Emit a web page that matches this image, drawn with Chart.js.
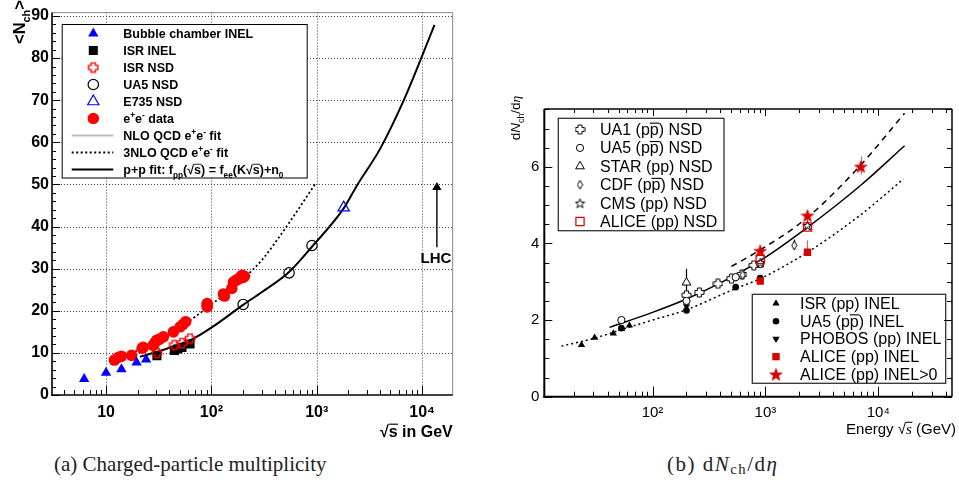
<!DOCTYPE html>
<html><head><meta charset="utf-8">
<script src="https://cdn.jsdelivr.net/npm/chart.js@4/dist/chart.umd.min.js"></script>
<style>
html,body{margin:0;padding:0;background:#fff;}
#wrap{position:relative;width:959px;height:485px;overflow:hidden;background:#fff;}
canvas{position:absolute;top:0;}
.lft{left:0;}
.rgt{left:480px;}
.under{z-index:1;}
.main{z-index:2;}
.over{z-index:3;pointer-events:none;}
.cap{position:absolute;font-family:"Liberation Serif","DejaVu Serif",serif;font-size:21px;color:#222;white-space:nowrap;line-height:24px;}
.cap sub{font-size:70%;vertical-align:-3px;line-height:0;}
</style></head><body>
<div id="wrap">
<canvas id="gL" class="lft under" width="480" height="445"></canvas>
<canvas id="cL" class="lft main" width="480" height="445"></canvas>
<canvas id="tL" class="lft over" width="480" height="445"></canvas>
<canvas id="gR" class="rgt under" width="479" height="445"></canvas>
<canvas id="cR" class="rgt main" width="479" height="445"></canvas>
<canvas id="tR" class="rgt over" width="479" height="445"></canvas>
<div class="cap" id="capA" style="left:54px;top:452px;">(a) Charged-particle multiplicity</div>
<div class="cap" id="capB" style="left:667px;top:452px;letter-spacing:1.5px;">(b) d<i>N</i><sub>ch</sub>/d<i>η</i></div>
</div>
<script>
// ===================== DATA: panel (a) =====================
const bubbleX = [6.2, 10, 14, 19.5, 24];
const bubbleY = [3.8, 5.3, 6.1, 7.7, 8.4];
const isrInelX = [30.4, 44.5, 48, 52.6, 62.7];
const isrInelY = [9.3, 10.6, 10.9, 11.3, 12.1];
const isrNsdX = [30.4, 44.5, 52.6, 62.7];
const isrNsdY = [10.0, 11.8, 12.3, 13.4];
const ua5NsdX = [200, 546, 900];
const ua5NsdY = [21.5, 29.0, 35.5];
const e735X = [1800];
const e735Y = [44.5];
const eeX = [12, 13, 14, 17.5, 22, 22.5, 28, 29, 30.2, 32, 35, 43.6, 50.5, 54, 57, 91.2, 91.2, 91.2, 130, 133, 156, 162, 172, 183, 189, 196, 200, 206];
const eeY = [8.3, 8.9, 9.2, 9.4, 11.1, 11.3, 11.8, 12.4, 13.0, 13.2, 13.8, 15.0, 16.2, 16.8, 17.4, 20.9, 21.3, 21.7, 24.0, 23.5, 25.3, 26.8, 27.3, 27.6, 28.0, 28.4, 27.9, 28.2];
const nlo3X = [10.9, 15, 20, 30, 50, 100, 200, 300, 500, 966];
const nlo3Y = [8.0, 9.3, 10.6, 12.7, 16.0, 21.5, 27.6, 32.0, 39.5, 50.1];
const ppFitX = [21, 30, 45, 65, 100, 200, 300, 546, 900, 1800, 2400, 4000, 6670, 10000, 13100];
const ppFitY = [9.1, 10.2, 11.7, 13.2, 16.0, 21.4, 24.4, 29.2, 35.2, 44.3, 49.7, 58.5, 69.9, 80.5, 87.9];
const lhcX = [13800, 13800];
const lhcY = [35.1, 49.3];
const leftXTickLabels = {1: '10', 2: '10²', 3: '10³', 4: '10⁴'};

// ===================== DATA: panel (b) =====================
const rIsrInelX = [23.5, 30.7, 45, 53.2, 62.4];
const rIsrInelY = [1.35, 1.54, 1.65, 1.77, 1.86];
const rUa5InelX = [53, 200, 546, 900];
const rUa5InelY = [1.79, 2.25, 2.86, 3.10];
const rPhobosX = [200];
const rPhobosY = [2.36];
const rAliceInelX = [900, 2360];
const rAliceInelY = [3.02, 3.77];
const rAliceInel0X = [900, 2360, 7000];
const rAliceInel0Y = [3.81, 4.73, 6.01];
const rUa1NsdX = [200, 260, 380, 500, 620, 790];
const rUa1NsdY = [2.65, 2.72, 2.95, 3.08, 3.19, 3.43];
const rUa5NsdX = [53, 200, 546, 900];
const rUa5NsdY = [2.00, 2.50, 3.12, 3.46];
const rStarNsdX = [200];
const rStarNsdY = [2.98];
const rCdfNsdX = [630, 1800];
const rCdfNsdY = [3.18, 3.95];
const rCmsNsdX = [900, 2360];
const rCmsNsdY = [3.50, 4.47];
const rAliceNsdX = [900, 2360];
const rAliceNsdY = [3.58, 4.43];
const rFitSolidX = [41.6, 100, 200, 400, 900, 2360, 7000, 17100];
const rFitSolidY = [1.81, 2.20, 2.55, 2.97, 3.55, 4.42, 5.52, 6.55];
const rFitDashX = [500, 900, 2360, 7000, 17100];
const rFitDashY = [3.40, 3.83, 4.68, 6.05, 7.40];
const rFitDotX = [15.6, 30, 53, 100, 200, 540, 900, 2360, 7000, 16700];
const rFitDotY = [1.32, 1.52, 1.75, 2.00, 2.27, 2.82, 3.08, 3.77, 4.75, 5.68];
const rErrX  = [200, 1800, 2360, 2360, 7000, 900];
const rErrLo = [2.72, 3.84, 3.70, 4.58, 5.80, 3.74];
const rErrHi = [3.34, 4.10, 4.08, 4.86, 6.27, 3.90];
const rightXTickLabels = {2: '10²', 3: '10³', 4: '10⁴'};

// ===================== helpers =====================
const SANS = '"Liberation Sans", Arial, Helvetica, sans-serif';
const SERIF = '"Liberation Serif", "DejaVu Serif", serif';
const pts = (xs, ys) => xs.map((x, i) => ({x: x, y: ys[i]}));

function markerCanvas(kind, w, h, fill, stroke, lw) {
  const c = document.createElement('canvas');
  c.width = w; c.height = h;
  const g = c.getContext('2d');
  g.lineWidth = lw; g.strokeStyle = stroke; g.fillStyle = fill;
  g.beginPath();
  const cx = w / 2, cy = h / 2;
  if (kind === 'cross') {
    const r = w / 2 - lw, a = w * 0.18;
    const p = [[-a,-r],[a,-r],[a,-a],[r,-a],[r,a],[a,a],[a,r],[-a,r],[-a,a],[-r,a],[-r,-a],[-a,-a]];
    p.forEach((q, i) => i ? g.lineTo(cx + q[0], cy + q[1]) : g.moveTo(cx + q[0], cy + q[1]));
    g.closePath();
  } else if (kind === 'star') {
    const R = w / 2 - lw * 0.6, r = R * 0.42, oy = cy + h * 0.05;
    for (let i = 0; i < 10; i++) {
      const ang = -Math.PI / 2 + i * Math.PI / 5, rr = i % 2 ? r : R;
      const px = cx + rr * Math.cos(ang), py = oy + rr * Math.sin(ang);
      i ? g.lineTo(px, py) : g.moveTo(px, py);
    }
    g.closePath();
  } else if (kind === 'diamond') {
    g.moveTo(cx, lw); g.lineTo(w - lw, cy); g.lineTo(cx, h - lw); g.lineTo(lw, cy); g.closePath();
  }
  if (fill !== 'none') g.fill();
  if (lw > 0) g.stroke();
  return c;
}

const RED = '#ff0000', BLUE = '#0000ff', RRED = '#d40000';
const MK = {
  bubble: {shape: 'triangle', r: 6, fill: BLUE, stroke: BLUE, lw: 0},
  isrInel: {shape: 'rect', r: 6.4, fill: '#000', stroke: '#000', lw: 0},
  isrNsd: {shape: 'image', r: 5, img: markerCanvas('cross', 12, 12, 'none', RED, 1.4), fill: 'rgba(0,0,0,0)', stroke: RED, lw: 0},
  ua5: {shape: 'circle', r: 5.2, fill: 'rgba(0,0,0,0)', stroke: '#000', lw: 1.2},
  e735: {shape: 'triangle', r: 6.5, fill: 'rgba(0,0,0,0)', stroke: BLUE, lw: 1.2},
  ee: {shape: 'circle', r: 5.8, fill: RED, stroke: RED, lw: 0},
  rIsr: {shape: 'triangle', r: 4.2, fill: '#000', stroke: '#000', lw: 0},
  rUa5Inel: {shape: 'circle', r: 3.3, fill: '#000', stroke: '#000', lw: 0},
  rPhobos: {shape: 'triangleDown', r: 4.2, fill: '#000', stroke: '#000', lw: 0},
  rAliceInel: {shape: 'rect', r: 5.2, fill: RRED, stroke: RRED, lw: 0},
  rAliceInel0: {shape: 'image', r: 5, img: markerCanvas('star', 14, 14, RRED, RRED, 0.6), fill: RRED, stroke: RRED, lw: 0},
  rUa1: {shape: 'image', r: 4, img: markerCanvas('cross', 11, 11, '#fff', '#000', 1), fill: '#fff', stroke: '#000', lw: 0},
  rUa5Nsd: {shape: 'circle', r: 3.6, fill: '#fff', stroke: '#000', lw: 1},
  rStar: {shape: 'triangle', r: 5, fill: '#fff', stroke: '#000', lw: 1},
  rCdf: {shape: 'image', r: 4, img: markerCanvas('diamond', 7, 11, '#fff', '#000', 1), fill: '#fff', stroke: '#000', lw: 0},
  rCms: {shape: 'image', r: 4, img: markerCanvas('star', 11, 11, 'rgba(255,255,255,0.6)', '#000', 1), fill: '#fff', stroke: '#000', lw: 0},
  rAliceNsd: {shape: 'rect', r: 5.8, fill: 'rgba(0,0,0,0)', stroke: RRED, lw: 1.2}
};

function scatterDs(label, xs, ys, m) {
  return {
    label: label, data: pts(xs, ys), showLine: false,
    pointStyle: m.shape === 'image' ? m.img : (m.shape === 'triangleDown' ? 'triangle' : m.shape),
    rotation: m.shape === 'triangleDown' ? 180 : 0,
    pointRadius: m.r, pointHoverRadius: m.r,
    backgroundColor: m.fill, borderColor: m.stroke, borderWidth: m.lw
  };
}
function lineDs(label, xs, ys, color, width, dash) {
  return {
    label: label, data: pts(xs, ys), showLine: true, pointRadius: 0, pointHoverRadius: 0,
    borderColor: color, borderWidth: width, borderDash: dash || [], backgroundColor: color,
    cubicInterpolationMode: 'monotone', fill: false
  };
}

function drawMarker(ctx, m, x, y) {
  ctx.save();
  if (m.shape === 'image') { ctx.drawImage(m.img, x - m.img.width / 2, y - m.img.height / 2); ctx.restore(); return; }
  ctx.fillStyle = m.fill; ctx.strokeStyle = m.stroke; ctx.lineWidth = m.lw;
  ctx.beginPath();
  const r = m.r;
  if (m.shape === 'circle') ctx.arc(x, y, r, 0, Math.PI * 2);
  else if (m.shape === 'rect') { const s = r * Math.SQRT1_2; ctx.rect(x - s, y - s, 2 * s, 2 * s); }
  else if (m.shape === 'triangle' || m.shape === 'triangleDown') {
    let rad = m.shape === 'triangleDown' ? Math.PI : 0;
    for (let i = 0; i < 3; i++) {
      const px = x + Math.sin(rad) * r, py = y - Math.cos(rad) * r;
      i ? ctx.lineTo(px, py) : ctx.moveTo(px, py);
      rad += 2 * Math.PI / 3;
    }
    ctx.closePath();
  }
  ctx.fill();
  if (m.lw > 0) ctx.stroke();
  ctx.restore();
}

function richWidth(ctx, segs, size, weight, family) {
  let w = 0;
  for (const s of segs) {
    const sz = (s.sub || s.sup) ? size * 0.66 : size;
    ctx.font = (s.italic ? 'italic ' : '') + weight + ' ' + sz + 'px ' + (s.fam || family);
    w += ctx.measureText(s.t).width;
  }
  return w;
}
function drawRich(ctx, x, y, segs, size, weight, family) {
  let cx = x;
  for (const s of segs) {
    const sz = (s.sub || s.sup) ? size * 0.66 : size;
    ctx.font = (s.italic ? 'italic ' : '') + weight + ' ' + sz + 'px ' + (s.fam || family);
    const dy = s.sup ? -size * 0.38 : (s.sub ? size * 0.3 : 0);
    const w = ctx.measureText(s.t).width;
    ctx.fillText(s.t, cx, y + dy);
    if (s.over) {
      ctx.save(); ctx.lineWidth = size * 0.07; ctx.strokeStyle = ctx.fillStyle;
      ctx.beginPath(); ctx.moveTo(cx, y - size * s.over); ctx.lineTo(cx + w + 0.5, y - size * s.over); ctx.stroke(); ctx.restore();
    }
    cx += w;
  }
  return cx - x;
}

function decadeLabel(v, map) {
  const l = Math.log10(v), r = Math.round(l);
  if (Math.abs(l - r) > 1e-6) return '';
  return map[r] !== undefined ? map[r] : '';
}

function seg(ctx, x1, y1, x2, y2) { ctx.beginPath(); ctx.moveTo(x1, y1); ctx.lineTo(x2, y2); ctx.stroke(); }

function logTickValues(min, max) {
  const out = [];
  const d0 = Math.floor(Math.log10(min)), d1 = Math.ceil(Math.log10(max));
  for (let d = d0; d <= d1; d++) {
    for (let k = 1; k <= 9; k++) {
      const v = k * Math.pow(10, d);
      if (v >= min * 0.9999 && v <= max * 1.0001) out.push({v: v, major: k === 1});
    }
  }
  return out;
}

// grid goes on a canvas beneath the chart, ticks and frame on a canvas above it
function axesPlugin(cfg) {
  return {
    id: 'axes' + cfg.name,
    afterDraw(chart) {
      const a = chart.chartArea, sx = chart.scales.x, sy = chart.scales.y;
      const L = a.left, R = a.right, T = a.top, B = a.bottom;
      const xt = logTickValues(sx.min, sx.max).map(t => ({p: Math.round(sx.getPixelForValue(t.v)) + 0.5, major: t.major}));
      const yt = [];
      for (let k = 0; k * cfg.yMinor <= sy.max + 1e-9; k++) {
        const v = k * cfg.yMinor, ratio = v / cfg.yMajor;
        yt.push({p: Math.round(sy.getPixelForValue(v)) + 0.5, major: Math.abs(ratio - Math.round(ratio)) < 1e-6, v: v});
      }
      const g = document.getElementById(cfg.under).getContext('2d');
      g.clearRect(0, 0, g.canvas.width, g.canvas.height);
      if (cfg.grid) {
        g.save();
        g.strokeStyle = '#444'; g.lineWidth = 1; g.setLineDash([1, 2]);
        yt.filter(t => t.major && t.v > 0).forEach(t => seg(g, L, t.p, R, t.p));
        xt.filter(t => t.major).forEach(t => seg(g, t.p, T, t.p, B));
        g.restore();
      }
      const o = document.getElementById(cfg.over).getContext('2d');
      o.clearRect(0, 0, o.canvas.width, o.canvas.height);
      o.save();
      o.strokeStyle = '#000'; o.lineWidth = 1;
      xt.forEach(t => {
        seg(o, t.p, B, t.p, B - (t.major ? cfg.xBotMaj : cfg.xBotMin));
        if (cfg.mirror) seg(o, t.p, T, t.p, T + (t.major ? cfg.xTopMaj : cfg.xTopMin));
      });
      yt.forEach(t => {
        seg(o, L, t.p, L + (t.major ? cfg.yMaj : cfg.yMin), t.p);
        if (cfg.mirror) seg(o, R, t.p, R - (t.major ? cfg.yMaj : cfg.yMin), t.p);
      });
      o.strokeStyle = cfg.sideColor; o.lineWidth = cfg.sideWidth;
      seg(o, L, T, R, T); seg(o, R, T, R, B);
      o.strokeStyle = '#000'; o.lineWidth = cfg.axisWidth;
      seg(o, L - cfg.axisWidth / 2, B, R, B); seg(o, L, T, L, B + cfg.axisWidth / 2);
      o.restore();
    }
  };
}

// ===================== panel (a) =====================
const L_XMIN = 3.07, L_XMAX = 19500, L_YMAX = 90.8;
const leftDatasets = [
  scatterDs('E735 NSD', e735X, e735Y, MK.e735),
  scatterDs('UA5 NSD', ua5NsdX, ua5NsdY, MK.ua5),
  scatterDs('ISR NSD', isrNsdX, isrNsdY, MK.isrNsd),
  scatterDs('ISR INEL', isrInelX, isrInelY, MK.isrInel),
  scatterDs('Bubble chamber INEL', bubbleX, bubbleY, MK.bubble),
  scatterDs('e+e- data', eeX, eeY, MK.ee),
  Object.assign(lineDs('LHC', lhcX, lhcY, '#000', 1.4), {pointRadius: [0, 4], pointStyle: 'triangle', backgroundColor: '#000', cubicInterpolationMode: 'default', tension: 0}),
  lineDs('p+p fit', ppFitX, ppFitY, '#000', 2),
  lineDs('3NLO QCD e+e- fit', nlo3X, nlo3Y, '#000', 1.8, [2, 2.5])
];

const leftText = {
  id: 'leftText',
  afterDraw(chart) {
    const ctx = chart.ctx, a = chart.chartArea, sx = chart.scales.x, sy = chart.scales.y;
    ctx.save();
    ctx.fillStyle = '#000'; ctx.textBaseline = 'alphabetic'; ctx.textAlign = 'left';
    ctx.save(); ctx.translate(25, 44); ctx.rotate(-Math.PI / 2);
    drawRich(ctx, 0, 0, [{t: '<N'}, {t: 'ch', sub: true}, {t: '>'}], 16.5, 'bold', SANS);
    ctx.restore();
    const xt = [{t: '√'}, {t: 's', over: 0.8}, {t: ' in GeV'}];
    const w = richWidth(ctx, xt, 16, 'bold', SANS);
    drawRich(ctx, a.right - w, 437, xt, 16, 'bold', SANS);
    ctx.font = 'bold 15px ' + SANS; ctx.textAlign = 'center';
    ctx.fillText('LHC', sx.getPixelForValue(lhcX[0]) - 1, sy.getPixelForValue(lhcY[0]) + 16);
    ctx.textAlign = 'left';
    const bx = 61.7, by = 24, bw = 245, bh = 153.5;
    ctx.fillStyle = '#fff'; ctx.fillRect(bx, by, bw, bh);
    ctx.strokeStyle = '#000'; ctx.lineWidth = 1; ctx.strokeRect(bx + 0.5, by + 0.5, bw, bh);
    ctx.fillStyle = '#000';
    const rows = [
      {m: MK.bubble, segs: [{t: 'Bubble chamber INEL'}]},
      {m: MK.isrInel, segs: [{t: 'ISR INEL'}]},
      {m: MK.isrNsd, segs: [{t: 'ISR NSD'}]},
      {m: MK.ua5, segs: [{t: 'UA5 NSD'}]},
      {m: MK.e735, segs: [{t: 'E735 NSD'}]},
      {m: MK.ee, segs: [{t: 'e'}, {t: '+', sup: true}, {t: 'e'}, {t: '-', sup: true}, {t: ' data'}]},
      {line: {c: '#bbbbbb', w: 2, d: []}, segs: [{t: 'NLO QCD e'}, {t: '+', sup: true}, {t: 'e'}, {t: '-', sup: true}, {t: ' fit'}]},
      {line: {c: '#000', w: 1.8, d: [2, 2.5]}, segs: [{t: '3NLO QCD e'}, {t: '+', sup: true}, {t: 'e'}, {t: '-', sup: true}, {t: ' fit'}]},
      {line: {c: '#000', w: 2.2, d: []}, segs: [{t: 'p+p fit: f'}, {t: 'pp', sub: true}, {t: '(√'}, {t: 's', over: 0.78}, {t: ') = f'}, {t: 'ee', sub: true}, {t: '(K√'}, {t: 's', over: 0.78}, {t: ')+n'}, {t: '0', sub: true}]}
    ];
    rows.forEach((r, i) => {
      const cy = 33.5 + i * 17;
      if (r.m) drawMarker(ctx, r.m, 93.3, cy);
      else {
        ctx.save(); ctx.strokeStyle = r.line.c; ctx.lineWidth = r.line.w; ctx.setLineDash(r.line.d);
        seg(ctx, 71.7, cy, 113.3, cy); ctx.restore();
      }
      ctx.fillStyle = '#000';
      drawRich(ctx, 123.3, cy + 4.5, r.segs, 12.5, 'bold', SANS);
    });
    ctx.restore();
  }
};

new Chart(document.getElementById('cL'), {
  type: 'scatter',
  data: {datasets: leftDatasets},
  options: {
    responsive: false, animation: false, devicePixelRatio: 1,
    layout: {padding: {top: 11.6, right: 27.3, left: 0, bottom: 0}},
    plugins: {legend: {display: false}, tooltip: {enabled: false}},
    scales: {
      x: {type: 'logarithmic', position: 'bottom', min: L_XMIN, max: L_XMAX,
        grid: {display: false, drawTicks: false}, border: {display: false},
        ticks: {autoSkip: false, maxRotation: 0, minRotation: 0, padding: 8, color: '#000',
          font: {family: SANS, size: 16, weight: 'bold'}, callback: v => decadeLabel(v, leftXTickLabels)},
        afterFit: s => { s.height = 50; }},
      y: {type: 'linear', position: 'left', min: 0, max: L_YMAX,
        grid: {display: false, drawTicks: false}, border: {display: false},
        ticks: {stepSize: 10, includeBounds: false, padding: 3, color: '#000',
          font: {family: SANS, size: 16, weight: 'bold'}, callback: v => (Math.abs(v % 10) < 1e-9 ? String(v) : '')},
        afterFit: s => { s.width = 52; }}
    }
  },
  plugins: [axesPlugin({name: 'L', under: 'gL', over: 'tL', grid: true, yMajor: 10, yMinor: 2, xBotMaj: 9, xBotMin: 5, yMaj: 8, yMin: 4, mirror: false,
    sideColor: '#888', sideWidth: 1, axisWidth: 1.6}), leftText]
});

// ===================== panel (b) =====================
const R_XMIN = 11.0, R_XMAX = 45000, R_YMAX = 7.51;
const rightDatasets = [
  scatterDs('ALICE (pp) INEL>0', rAliceInel0X, rAliceInel0Y, MK.rAliceInel0),
  scatterDs('ALICE (pp) NSD', rAliceNsdX, rAliceNsdY, MK.rAliceNsd),
  scatterDs('ALICE (pp) INEL', rAliceInelX, rAliceInelY, MK.rAliceInel),
  scatterDs('CMS (pp) NSD', rCmsNsdX, rCmsNsdY, MK.rCms),
  scatterDs('CDF (pp̄) NSD', rCdfNsdX, rCdfNsdY, MK.rCdf),
  scatterDs('STAR (pp) NSD', rStarNsdX, rStarNsdY, MK.rStar),
  scatterDs('UA5 (pp̄) NSD', rUa5NsdX, rUa5NsdY, MK.rUa5Nsd),
  scatterDs('UA1 (pp̄) NSD', rUa1NsdX, rUa1NsdY, MK.rUa1),
  scatterDs('PHOBOS (pp) INEL', rPhobosX, rPhobosY, MK.rPhobos),
  scatterDs('UA5 (pp̄) INEL', rUa5InelX, rUa5InelY, MK.rUa5Inel),
  scatterDs('ISR (pp) INEL', rIsrInelX, rIsrInelY, MK.rIsr),
  lineDs('fit NSD', rFitSolidX, rFitSolidY, '#000', 1.5),
  lineDs('fit INEL>0', rFitDashX, rFitDashY, '#000', 1.5, [6, 5]),
  lineDs('fit INEL', rFitDotX, rFitDotY, '#000', 1.5, [2, 3])
];

const rightErr = {
  id: 'rightErr',
  beforeDatasetsDraw(chart) {
    const ctx = chart.ctx, sx = chart.scales.x, sy = chart.scales.y;
    ctx.save(); ctx.lineWidth = 1.2;
    rErrX.forEach((v, i) => {
      ctx.strokeStyle = i < 2 ? '#000' : '#e06060';
      const px = Math.round(sx.getPixelForValue(v)) + 0.5;
      seg(ctx, px, sy.getPixelForValue(rErrLo[i]), px, sy.getPixelForValue(rErrHi[i]));
    });
    ctx.restore();
  }
};

const rightText = {
  id: 'rightText',
  afterDraw(chart) {
    const ctx = chart.ctx;
    ctx.save(); ctx.fillStyle = '#000'; ctx.textBaseline = 'alphabetic'; ctx.textAlign = 'left';
    const yt = [{t: 'd'}, {t: 'N', italic: true}, {t: 'ch', sub: true}, {t: '/d'}, {t: 'η', fam: SERIF, italic: true}];
    const yw = richWidth(ctx, yt, 13.5, 'normal', SANS);
    ctx.save(); ctx.translate(40, 118 + yw / 2); ctx.rotate(-Math.PI / 2);
    drawRich(ctx, 0, 0, yt, 13.5, 'normal', SANS);
    ctx.restore();
    const xt = [{t: 'Energy '}, {t: '√'}, {t: 's', fam: SERIF, italic: true, over: 0.78}, {t: ' (GeV)'}];
    const xw = richWidth(ctx, xt, 15, 'normal', SANS);
    drawRich(ctx, 476 - xw, 434, xt, 15, 'normal', SANS);
    const legs = [
      {x: 78.3, y: 118.3, w: 165.7, h: 112.4, mx: 100, tx: 120, y0: 129.5, dy: 18.4, rows: [
        {m: MK.rUa1, segs: [{t: 'UA1 (p'}, {t: 'p', over: 0.74}, {t: ') NSD'}]},
        {m: MK.rUa5Nsd, segs: [{t: 'UA5 (p'}, {t: 'p', over: 0.74}, {t: ') NSD'}]},
        {m: MK.rStar, segs: [{t: 'STAR (pp) NSD'}]},
        {m: MK.rCdf, segs: [{t: 'CDF (p'}, {t: 'p', over: 0.74}, {t: ') NSD'}]},
        {m: MK.rCms, segs: [{t: 'CMS (pp) NSD'}]},
        {m: MK.rAliceNsd, segs: [{t: 'ALICE (pp) NSD'}]}
      ]},
      {x: 272.3, y: 294.3, w: 193.4, h: 89, mx: 296, tx: 320, y0: 303.5, dy: 17.7, rows: [
        {m: MK.rIsr, segs: [{t: 'ISR (pp) INEL'}]},
        {m: MK.rUa5Inel, segs: [{t: 'UA5 (p'}, {t: 'p', over: 0.74}, {t: ') INEL'}]},
        {m: MK.rPhobos, segs: [{t: 'PHOBOS (pp) INEL'}]},
        {m: MK.rAliceInel, segs: [{t: 'ALICE (pp) INEL'}]},
        {m: MK.rAliceInel0, segs: [{t: 'ALICE (pp) INEL>0'}]}
      ]}
    ];
    legs.forEach(L => {
      ctx.fillStyle = '#fff'; ctx.fillRect(L.x, L.y, L.w, L.h);
      ctx.strokeStyle = '#333'; ctx.lineWidth = 1.3; ctx.strokeRect(L.x, L.y, L.w, L.h);
      L.rows.forEach((r, i) => {
        const cy = L.y0 + i * L.dy;
        drawMarker(ctx, r.m, L.mx, cy);
        ctx.fillStyle = '#000';
        drawRich(ctx, L.tx, cy + 5.5, r.segs, 16, 'normal', SANS);
      });
    });
    ctx.restore();
  }
};

new Chart(document.getElementById('cR'), {
  type: 'scatter',
  data: {datasets: rightDatasets},
  options: {
    responsive: false, animation: false, devicePixelRatio: 1,
    layout: {padding: {top: 109, right: 4, left: 0, bottom: 0}},
    plugins: {legend: {display: false}, tooltip: {enabled: false}},
    scales: {
      x: {type: 'logarithmic', position: 'bottom', min: R_XMIN, max: R_XMAX,
        grid: {display: false, drawTicks: false}, border: {display: false},
        ticks: {autoSkip: false, maxRotation: 0, minRotation: 0, padding: 7, color: '#000',
          font: {family: SANS, size: 15}, callback: v => decadeLabel(v, rightXTickLabels)},
        afterFit: s => { s.height = 48.3; }},
      y: {type: 'linear', position: 'left', min: 0, max: R_YMAX,
        grid: {display: false, drawTicks: false}, border: {display: false},
        ticks: {stepSize: 2, includeBounds: false, padding: 5, color: '#000',
          font: {family: SANS, size: 15}, callback: v => (Math.abs(v % 2) < 1e-9 ? String(v) : '')},
        afterFit: s => { s.width = 64.3; }}
    }
  },
  plugins: [axesPlugin({name: 'R', under: 'gR', over: 'tR', grid: false, yMajor: 2, yMinor: 0.5, xBotMaj: 10, xBotMin: 5, xTopMaj: 7, xTopMin: 4, yMaj: 8, yMin: 5, mirror: true,
    sideColor: '#000', sideWidth: 1.5, axisWidth: 2}), rightErr, rightText]
});
</script>
</body></html>
